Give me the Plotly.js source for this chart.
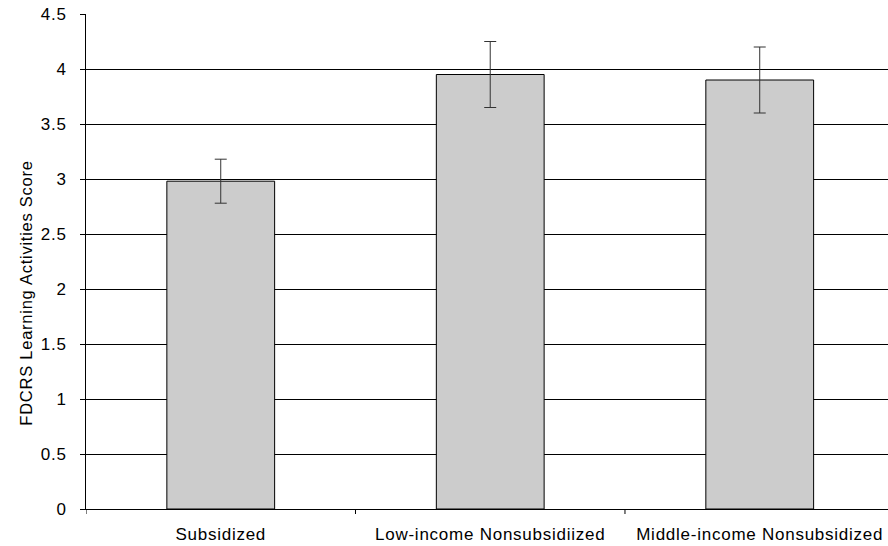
<!DOCTYPE html>
<html>
<head>
<meta charset="utf-8">
<script src="https://cdn.plot.ly/plotly-3.0.1.min.js"></script>
<style>
html,body{margin:0;padding:0;background:#fff;}
#chart{width:888px;height:546px;}
#chart text{letter-spacing:0.75px;}
</style>
</head>
<body>
<div id="chart"></div>
<script>
const categories = ["Subsidized", "Low-income Nonsubsidiized", "Middle-income Nonsubsidized"];
const scores = [2.98, 3.95, 3.90];
const errors = [0.2, 0.3, 0.3];
const yTicks = [0, 0.5, 1, 1.5, 2, 2.5, 3, 3.5, 4, 4.5];
const yTickText = ["0", "0.5", "1", "1.5", "2", "2.5", "3", "3.5", "4", "4.5"];
const yTitle = "FDCRS Learning Activities Score";

const font = {family: "Liberation Sans, Arial, sans-serif", size: 17, color: "#000"};

const trace = {
  type: "bar",
  x: [0, 1, 2],
  y: scores,
  width: 0.4,
  marker: {color: "#cccccc", line: {color: "#000", width: 1}},
  error_y: {type: "data", array: errors, visible: true, color: "#333", thickness: 1, width: 6},
  hoverinfo: "none"
};

const layout = {
  width: 888, height: 546,
  margin: {l: 86, r: 0, t: 14, b: 37, pad: 0},
  paper_bgcolor: "#fff", plot_bgcolor: "#fff",
  font: font,
  showlegend: false,
  xaxis: {
    range: [-0.5, 2.476],
    tickvals: [0, 1, 2],
    ticktext: categories,
    tickmode: "array",
    showgrid: false,
    zeroline: false,
    showline: true, linecolor: "#000", linewidth: 1,
    ticks: "",
    ticklabelstandoff: 10,
    tickfont: font,
    fixedrange: true
  },
  yaxis: {
    range: [0, 4.5],
    tickvals: yTicks,
    ticktext: yTickText,
    tickmode: "array",
    showgrid: true, gridcolor: "#000", gridwidth: 1,
    zeroline: false,
    showline: true, linecolor: "#000", linewidth: 1,
    ticks: "outside", ticklen: 5, tickcolor: "#000",
    ticklabelstandoff: 10,
    tickfont: font,
    fixedrange: true
  },
  shapes: [0, 1, 2].map(i => ({
    type: "line", xref: "x", yref: "paper",
    x0: i - 0.5, x1: i - 0.5, y0: 0, y1: -5 / 495,
    line: {color: "#000", width: 1}
  })),
  annotations: [{
    text: yTitle, textangle: -90,
    xref: "paper", yref: "paper",
    x: (26 - 86) / 802, y: (509 - 293) / 495,
    xanchor: "center", yanchor: "middle",
    showarrow: false,
    font: {family: "Liberation Sans, Arial, sans-serif", size: 16.5, color: "#000"}
  }]
};

Plotly.newPlot("chart", [trace], layout, {staticPlot: true, displayModeBar: false});
</script>
</body>
</html>
